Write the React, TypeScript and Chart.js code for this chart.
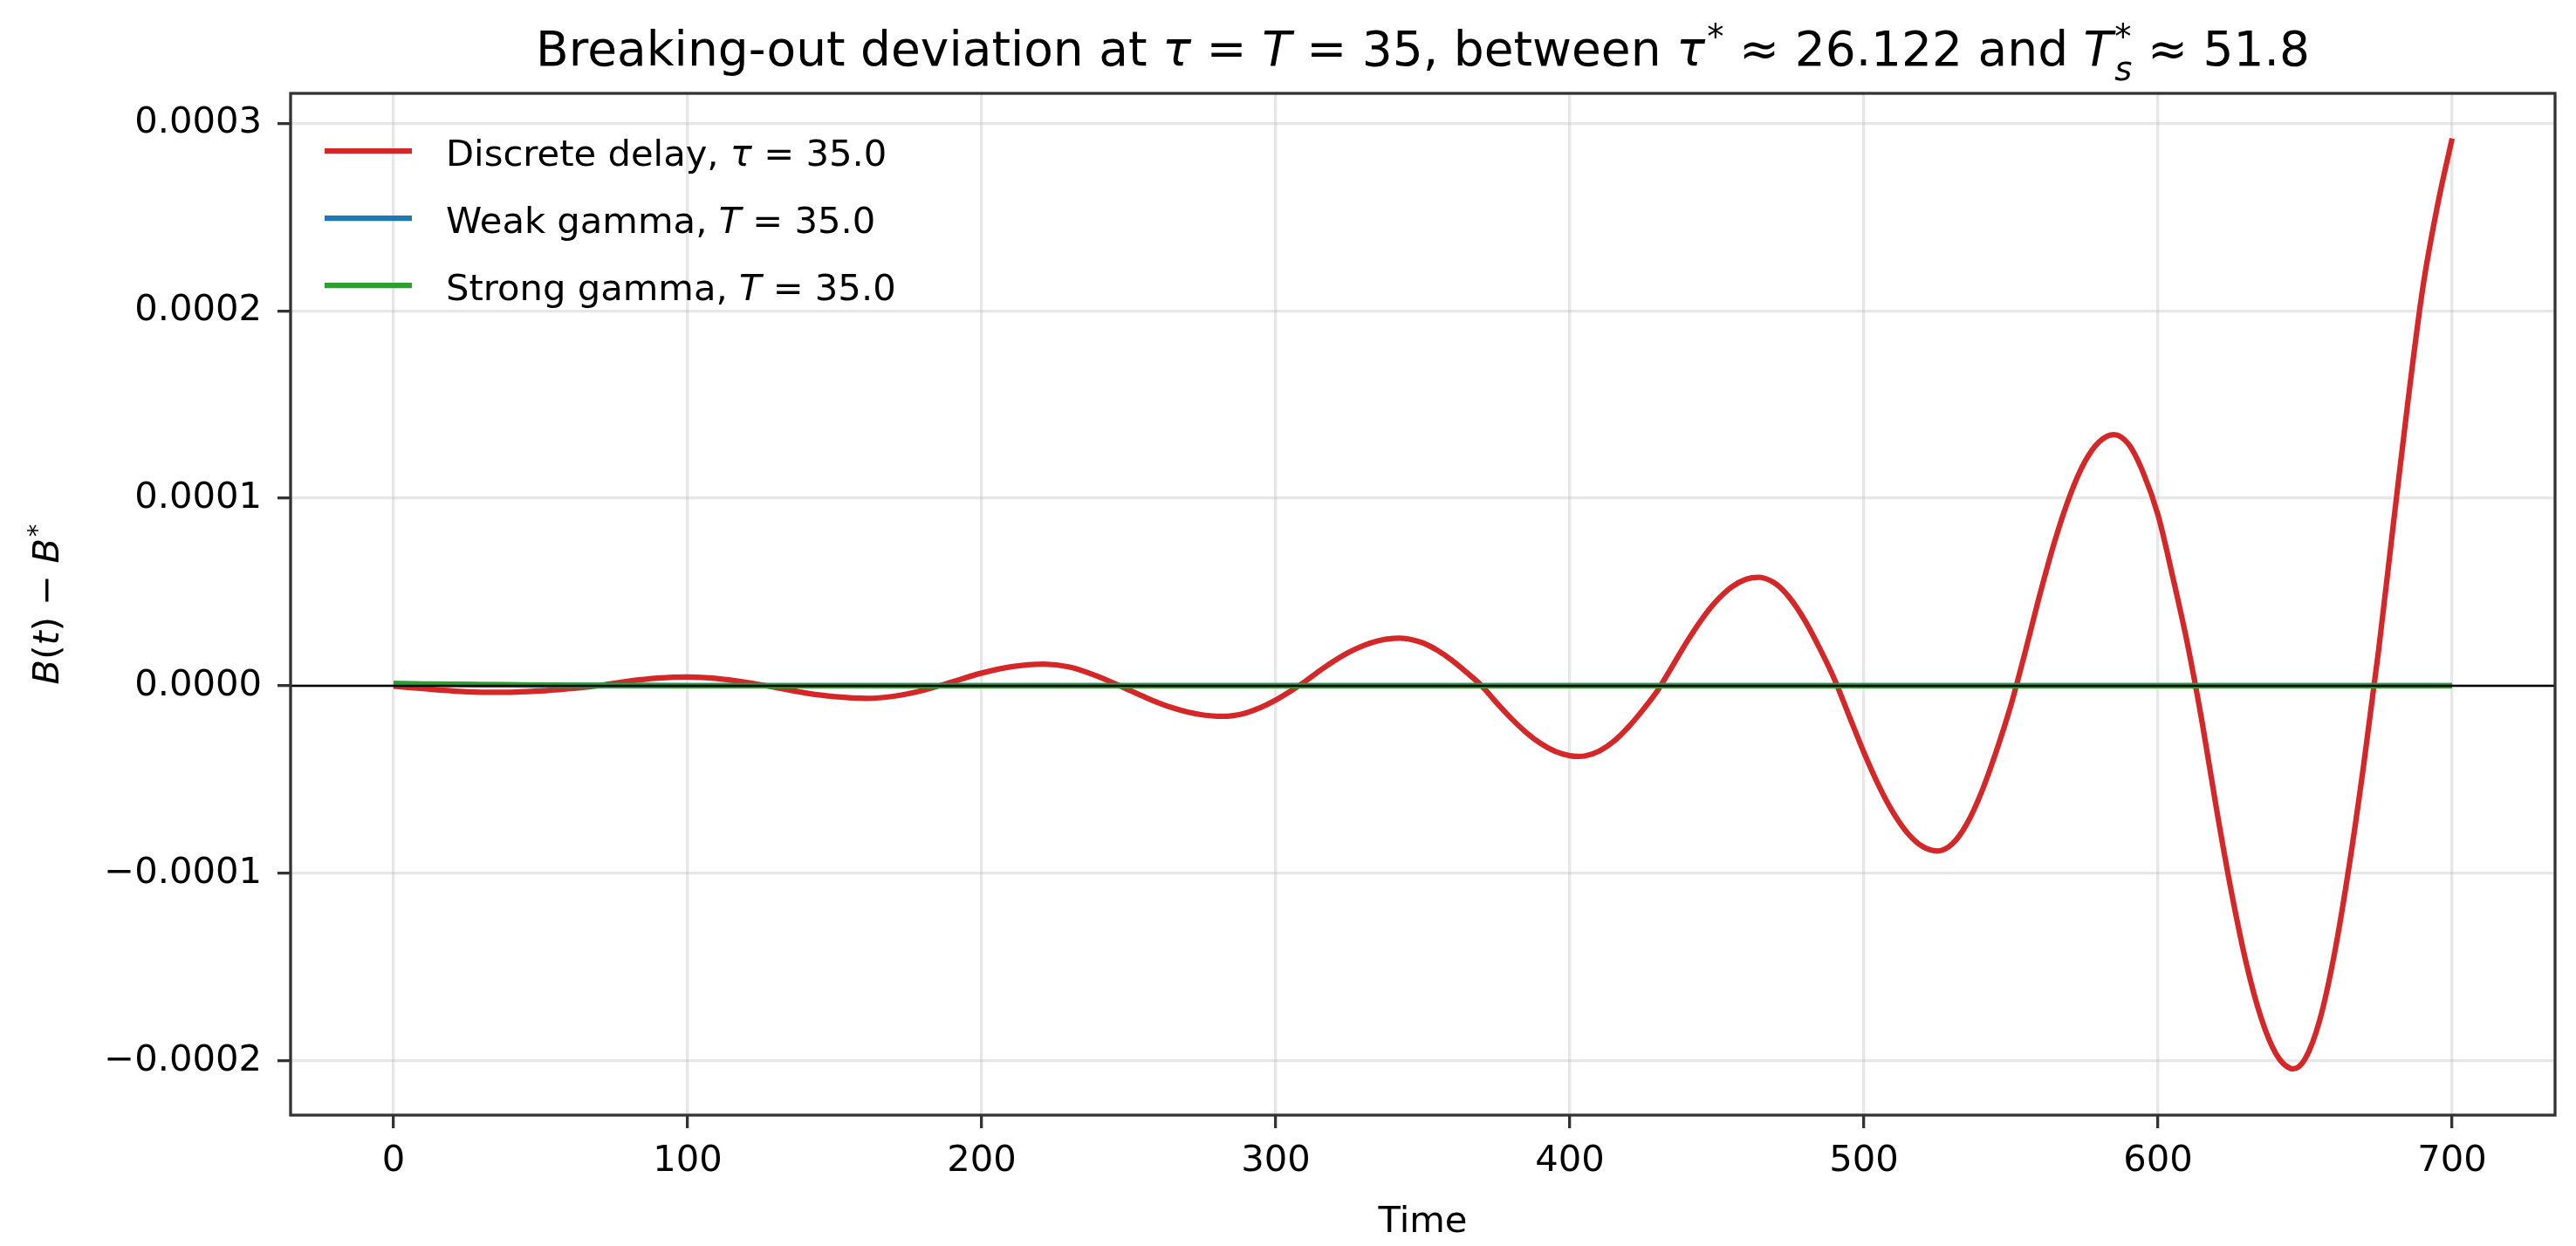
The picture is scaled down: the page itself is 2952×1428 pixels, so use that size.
import { useEffect, useRef } from "react";
import { Chart, registerables, type Plugin } from "chart.js";

Chart.register(...registerables);

// --- data ---
const redTime = [
  0, 10, 20, 30, 36, 40, 50, 60, 70, 80, 90, 100, 110, 120, 130, 140, 150, 161,
  170, 180, 190, 200, 210, 221, 230, 240,
  250, 255, 260, 265, 270, 275, 280, 282, 285, 290, 295, 300, 305,
  310, 315, 320, 325, 330, 335, 340, 342, 345, 350, 355, 360, 365, 370,
  375, 380, 385, 390, 395, 400, 403, 405, 410, 415, 420, 425, 430,
  435, 440, 445, 450, 455, 460, 464, 465, 470, 475, 480, 485, 490,
  495, 500, 505, 510, 515, 520, 525, 530, 535, 540, 545, 550,
  555, 560, 565, 570, 575, 580, 585, 590, 595, 600, 605, 610,
  615, 620, 625, 630, 635, 640, 645, 646, 650, 655, 660, 665, 670,
  675, 680, 685, 690, 695, 700,
];
const redValue = [
  -0.2e-6, -1.5e-6, -2.7e-6, -3.4e-6, -3.5e-6, -3.4e-6, -2.8e-6, -1.5e-6,
  0.1e-6, 2.5e-6, 4.1e-6, 4.7e-6, 3.9e-6, 1.8e-6, -0.9e-6, -3.8e-6, -5.8e-6,
  -6.7e-6, -5.6e-6, -2.5e-6, 2.1e-6, 6.8e-6, 10.2e-6, 11.6e-6, 10.0e-6, 4.7e-6,
  -2.2e-6, -5.7e-6, -9.0e-6, -11.8e-6, -14.0e-6, -15.5e-6, -16.2e-6, -16.3e-6,
  -16.0e-6, -14.4e-6, -11.5e-6, -7.6e-6, -2.9e-6,
  2.3e-6, 8.1e-6, 13.4e-6, 18.0e-6, 21.6e-6, 24.1e-6, 25.3e-6, 25.4e-6,
  25.0e-6, 22.9e-6, 18.9e-6, 13.5e-6, 7.0e-6, 0.0,
  -8.9e-6, -17.3e-6, -24.7e-6, -30.7e-6, -35.0e-6, -37.3e-6, -37.7e-6,
  -37.5e-6, -34.8e-6, -29.5e-6, -21.8e-6, -12.5e-6, -2.1e-6,
  10.9e-6, 24.0e-6, 35.8e-6, 45.5e-6, 52.7e-6, 56.9e-6, 57.9e-6, 57.8e-6,
  54.4e-6, 46.4e-6, 34.6e-6, 19.8e-6, 3.4e-6,
  -16.2e-6, -35.6e-6, -53.1e-6, -67.8e-6, -78.9e-6, -85.8e-6, -88.1e-6,
  -84.4e-6, -73.6e-6, -56.6e-6, -34.9e-6, -10.2e-6,
  19.1e-6, 49.8e-6, 77.8e-6, 101.3e-6, 119.2e-6, 130.2e-6, 134.0e-6,
  128.8e-6, 113.5e-6, 91.0e-6, 58.1e-6, 22.4e-6,
  -19.5e-6, -66.8e-6, -110.4e-6, -148.0e-6, -176.9e-6, -196.0e-6, -204.1e-6,
  -204.3e-6, -199.0e-6, -178.2e-6, -142.8e-6, -95.9e-6, -41.3e-6,
  19.0e-6, 86.0e-6, 152.0e-6, 212.0e-6, 256.0e-6, 292.0e-6,
];

const weakTime = [0, 10, 20, 30, 40, 60, 80, 100, 150, 200, 300, 400, 500, 600, 700];
const weakValue = [
  1.1e-6, 0.9e-6, 0.7e-6, 0.55e-6, 0.45e-6, 0.25e-6, 0.12e-6, 0.05e-6, 0, 0, 0,
  0, 0, 0, 0,
];

const strongTime = [0, 10, 20, 30, 40, 60, 80, 100, 150, 200, 300, 400, 500, 600, 700];
const strongValue = [
  1.2e-6, 1.0e-6, 0.8e-6, 0.65e-6, 0.5e-6, 0.3e-6, 0.15e-6, 0.05e-6, 0, 0, 0, 0,
  0, 0, 0,
];

const xTicks = [0, 100, 200, 300, 400, 500, 600, 700];
const yTicks = [-0.0002, -0.0001, 0, 0.0001, 0.0002, 0.0003];
const xLimits = [-35, 735];
const yLimits = [-0.000229, 0.000316];

const RED = "#d62728";
const BLUE = "#1f77b4";
const GREEN = "#2ca02c";
const FONT = '"DejaVu Sans", sans-serif';
const W = 2952;
const H = 1428;

type Seg = { t: string; it?: boolean; sup?: string; sub?: string };

function font(size: number, italic?: boolean) {
  return `${italic ? "italic " : ""}${size}px ${FONT}`;
}

function segWidth(ctx: CanvasRenderingContext2D, s: Seg, size: number) {
  ctx.font = font(size, s.it);
  let w = ctx.measureText(s.t).width;
  if (s.sup || s.sub) {
    let extra = 0;
    if (s.sup) {
      ctx.font = font(size * 0.7);
      extra = Math.max(extra, ctx.measureText(s.sup).width);
    }
    if (s.sub) {
      ctx.font = font(size * 0.7, true);
      extra = Math.max(extra, ctx.measureText(s.sub).width);
    }
    w += extra + size * 0.04;
  }
  return w;
}

function drawRich(
  ctx: CanvasRenderingContext2D,
  segs: Seg[],
  x: number,
  y: number,
  size: number,
  align: "left" | "center",
) {
  const total = segs.reduce((acc, s) => acc + segWidth(ctx, s, size), 0);
  let cx = align === "center" ? x - total / 2 : x;
  ctx.textAlign = "left";
  ctx.textBaseline = "alphabetic";
  ctx.fillStyle = "#000";
  for (const s of segs) {
    ctx.font = font(size, s.it);
    ctx.fillText(s.t, cx, y);
    cx += ctx.measureText(s.t).width;
    if (s.sup || s.sub) {
      let extra = 0;
      const sx = cx + size * 0.04;
      if (s.sup) {
        ctx.font = font(size * 0.7);
        ctx.fillText(s.sup, sx, y - size * 0.36);
        extra = Math.max(extra, ctx.measureText(s.sup).width);
      }
      if (s.sub) {
        ctx.font = font(size * 0.7, true);
        ctx.fillText(s.sub, sx, y + size * 0.3);
        extra = Math.max(extra, ctx.measureText(s.sub).width);
      }
      cx += extra + size * 0.04;
    }
  }
}

const titleSegs: Seg[] = [
  { t: "Breaking-out deviation at " },
  { t: "τ", it: true },
  { t: " = " },
  { t: "T", it: true },
  { t: " = 35, between " },
  { t: "τ", it: true, sup: "*" },
  { t: " ≈ 26.122 and " },
  { t: "T", it: true, sup: "*", sub: "s" },
  { t: " ≈ 51.8" },
];

const yLabelSegs: Seg[] = [
  { t: "B", it: true },
  { t: "(" },
  { t: "t", it: true },
  { t: ") − " },
  { t: "B", it: true, sup: "*" },
];

const legendRows: { color: string; segs: Seg[] }[] = [
  { color: RED, segs: [{ t: "Discrete delay, " }, { t: "τ", it: true }, { t: " = 35.0" }] },
  { color: BLUE, segs: [{ t: "Weak gamma, " }, { t: "T", it: true }, { t: " = 35.0" }] },
  { color: GREEN, segs: [{ t: "Strong gamma, " }, { t: "T", it: true }, { t: " = 35.0" }] },
];

const decorPlugin: Plugin<"line"> = {
  id: "decor",
  afterDatasetsDraw(chart) {
    const { ctx, chartArea: a, scales } = chart;
    const y0 = scales.y.getPixelForValue(0);
    ctx.save();
    ctx.strokeStyle = "#000";
    ctx.lineWidth = 2.5;
    ctx.beginPath();
    ctx.moveTo(a.left, y0);
    ctx.lineTo(a.right, y0);
    ctx.stroke();
    ctx.restore();
  },
  afterDraw(chart) {
    const { ctx, chartArea: a } = chart;
    ctx.save();
    // spines
    ctx.strokeStyle = "#333";
    ctx.lineWidth = 3.3;
    ctx.strokeRect(a.left, a.top, a.right - a.left, a.bottom - a.top);

    // legend
    legendRows.forEach((row, i) => {
      const cy = 173 + i * 77;
      ctx.strokeStyle = row.color;
      ctx.lineWidth = 6.25;
      ctx.beginPath();
      ctx.moveTo(372, cy);
      ctx.lineTo(472, cy);
      ctx.stroke();
      drawRich(ctx, row.segs, 511, cy + 16.5, 41.7, "left");
    });

    // title
    const mid = (a.left + a.right) / 2;
    drawRich(ctx, titleSegs, mid, 75, 55, "center");

    // x label
    drawRich(ctx, [{ t: "Time" }], mid, 1412, 41.7, "center");

    // y label
    ctx.translate(67, (a.top + a.bottom) / 2);
    ctx.rotate(-Math.PI / 2);
    drawRich(ctx, yLabelSegs, 0, 0, 41.7, "center");
    ctx.restore();
  },
};

function toPoints(xs: number[], ys: number[]) {
  return xs.map((x, i) => ({ x, y: ys[i] }));
}

export default function App() {
  const canvasRef = useRef<HTMLCanvasElement>(null);

  useEffect(() => {
    document.body.style.margin = "0";
    const canvas = canvasRef.current;
    if (!canvas) return;
    const line = {
      borderWidth: 6.25,
      pointRadius: 0,
      cubicInterpolationMode: "monotone" as const,
      borderCapStyle: "butt" as const,
    };
    const chart = new Chart(canvas, {
      type: "line",
      data: {
        datasets: [
          { label: "Discrete delay, τ = 35.0", data: toPoints(redTime, redValue), borderColor: RED, order: 3, ...line },
          { label: "Weak gamma, T = 35.0", data: toPoints(weakTime, weakValue), borderColor: BLUE, order: 2, ...line },
          { label: "Strong gamma, T = 35.0", data: toPoints(strongTime, strongValue), borderColor: GREEN, order: 1, ...line },
        ],
      },
      options: {
        animation: false,
        responsive: false,
        devicePixelRatio: 1,
        layout: { padding: { left: 0, top: 107, right: 24, bottom: 0 } },
        plugins: { legend: { display: false }, title: { display: false }, tooltip: { enabled: false } },
        scales: {
          x: {
            type: "linear",
            min: xLimits[0],
            max: xLimits[1],
            afterFit: (s) => {
              s.height = 150;
            },
            afterBuildTicks: (s) => {
              s.ticks = xTicks.map((value) => ({ value }));
            },
            border: { display: false },
            grid: {
              color: "rgba(176,176,176,0.3)",
              lineWidth: 3.3,
              drawTicks: true,
              tickLength: 15,
              tickColor: "#333",
              tickWidth: 3.3,
            },
            ticks: {
              autoSkip: false,
              maxRotation: 0,
              padding: 13,
              color: "#000",
              font: { family: FONT, size: 41.7 },
              callback: (v) => String(v),
            },
          },
          y: {
            type: "linear",
            min: yLimits[0],
            max: yLimits[1],
            afterFit: (s) => {
              s.width = 333;
            },
            afterBuildTicks: (s) => {
              s.ticks = yTicks.map((value) => ({ value }));
            },
            border: { display: false },
            grid: {
              color: "rgba(176,176,176,0.3)",
              lineWidth: 3.3,
              drawTicks: true,
              tickLength: 15,
              tickColor: "#333",
              tickWidth: 3.3,
            },
            ticks: {
              padding: 18,
              color: "#000",
              font: { family: FONT, size: 41.7 },
              callback: (v) => Number(v).toFixed(4).replace("-", "\u2212"),
            },
          },
        },
      },
      plugins: [decorPlugin],
    });
    return () => chart.destroy();
  }, []);

  return (
    <div style={{ width: W, height: H, background: "#fff" }}>
      <canvas ref={canvasRef} width={W} height={H} style={{ display: "block" }} />
    </div>
  );
}
